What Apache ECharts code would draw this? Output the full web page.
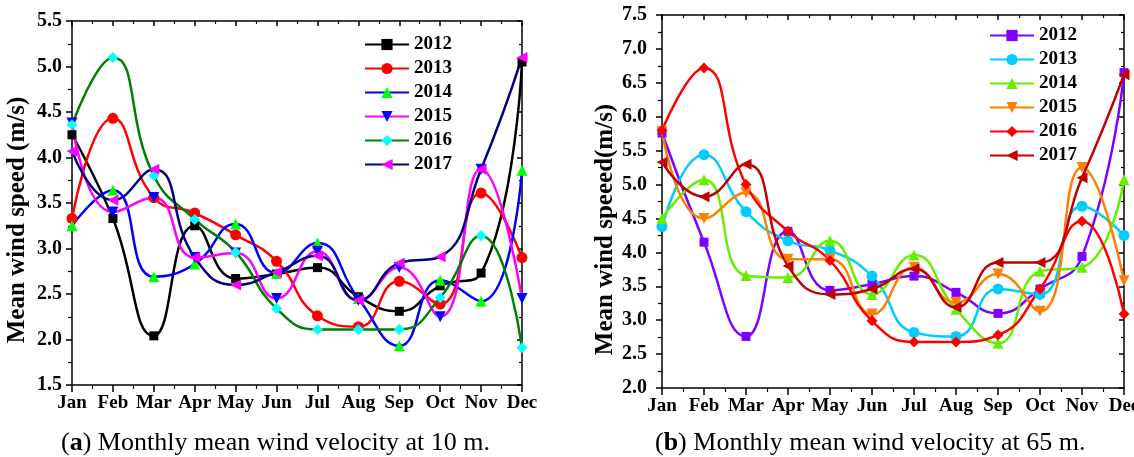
<!DOCTYPE html>
<html><head><meta charset="utf-8">
<script src="https://cdn.jsdelivr.net/npm/echarts@6/dist/echarts.min.js"></script>
<style>html,body{margin:0;padding:0;background:#fff}#c{width:1134px;height:457px}</style>
</head><body><div id="c"></div>
<script>
// ---------- data ----------
const months = ['Jan','Feb','Mar','Apr','May','Jun','Jul','Aug','Sep','Oct','Nov','Dec'];
const years = ['2012','2013','2014','2015','2016','2017'];

// (a) 10 m
const v10_2012 = [4.25, 3.33, 2.04, 3.25, 2.67, 2.72, 2.79, 2.47, 2.31, 2.59, 2.73, 5.05];
const v10_2013 = [3.33, 4.43, 3.56, 3.39, 3.15, 2.86, 2.26, 2.14, 2.64, 2.39, 3.61, 2.90];
const v10_2014 = [3.25, 3.64, 2.69, 2.83, 3.27, 2.73, 3.06, 2.45, 1.93, 2.65, 2.42, 3.86];
const v10_2015 = [4.38, 3.40, 3.56, 2.90, 2.95, 2.45, 2.97, 2.43, 2.79, 2.25, 3.87, 2.45];
const v10_2016 = [4.36, 5.10, 3.80, 3.32, 2.96, 2.34, 2.11, 2.11, 2.11, 2.46, 3.14, 1.91];
const v10_2017 = [4.07, 3.53, 3.87, 2.90, 2.60, 2.74, 2.92, 2.43, 2.84, 2.91, 3.87, 5.10];

// (b) 65 m
const v65_2012 = [5.76, 4.15, 2.76, 4.31, 3.44, 3.53, 3.65, 3.41, 3.10, 3.46, 3.94, 6.65];
const v65_2013 = [4.38, 5.44, 4.60, 4.17, 4.03, 3.65, 2.82, 2.76, 3.46, 3.38, 4.68, 4.25];
const v65_2014 = [4.50, 5.07, 3.66, 3.63, 4.17, 3.38, 3.96, 3.16, 2.66, 3.72, 3.78, 5.07];
const v65_2015 = [5.78, 4.50, 4.88, 3.90, 3.90, 3.09, 3.78, 3.26, 3.68, 3.13, 5.25, 3.58];
const v65_2016 = [5.80, 6.72, 5.00, 4.31, 3.88, 2.99, 2.68, 2.68, 2.78, 3.46, 4.46, 3.09];
const v65_2017 = [5.33, 4.82, 5.30, 3.80, 3.38, 3.46, 3.76, 3.19, 3.85, 3.85, 5.10, 6.62];

const yAxisA = {min: 1.5, max: 5.5, interval: 0.5};
const yAxisB = {min: 2.0, max: 7.5, interval: 0.5};
const yNameA = 'Mean wind speed (m/s)';
const yNameB = 'Mean wind speeed(m/s)';
const captionA = '({b|a}) Monthly mean wind velocity at 10 m.';
const captionB = '({b|b}) Monthly mean wind velocity at 65 m.';

// ---------- styles ----------
const FONT = 'Liberation Serif';
const seriesA = [v10_2012, v10_2013, v10_2014, v10_2015, v10_2016, v10_2017];
const seriesB = [v65_2012, v65_2013, v65_2014, v65_2015, v65_2016, v65_2017];
const symA = [
  {line:'#000000', mark:'#000000', sym:'rect', rot:0},
  {line:'#ff0000', mark:'#ff0000', sym:'circle', rot:0},
  {line:'#0000ff', mark:'#00ff00', sym:'triangle', rot:0},
  {line:'#ff00ff', mark:'#0000ff', sym:'triangle', rot:180},
  {line:'#008000', mark:'#00ffff', sym:'diamond', rot:0},
  {line:'#000080', mark:'#ff00ff', sym:'triangle', rot:90}
];
const symB = [
  {line:'#8000ff', mark:'#8000ff', sym:'rect', rot:0},
  {line:'#00ccff', mark:'#00ccff', sym:'circle', rot:0},
  {line:'#66ee00', mark:'#66ee00', sym:'triangle', rot:0},
  {line:'#ff8000', mark:'#ff8000', sym:'triangle', rot:180},
  {line:'#ff0000', mark:'#ff0000', sym:'diamond', rot:0},
  {line:'#c00000', mark:'#c00000', sym:'triangle', rot:90}
];

const axisLineStyle = {color:'#000', width:1.5};

function xAxes(gi) {
  const base = {
    type:'value', gridIndex:gi, min:0, max:months.length-1, interval:1,
    splitLine:{show:false},
    axisLine:{show:true, onZero:false, lineStyle:axisLineStyle}
  };
  return [
    Object.assign({}, base, {
      position:'bottom',
      axisTick:{show:true, inside:false, length:7, lineStyle:axisLineStyle},
      minorTick:{show:true, splitNumber:2, length:4, lineStyle:{color:'#000', width:1.2}},
      axisLabel:{show:true, formatter:v=>months[v], fontFamily:FONT, fontWeight:'bold',
                 fontSize:19, color:'#000', margin:9, showMinLabel:true, showMaxLabel:true}
    }),
    Object.assign({}, base, {
      position:'top',
      axisTick:{show:true, inside:true, length:5, lineStyle:axisLineStyle},
      minorTick:{show:true, splitNumber:2, length:3, lineStyle:{color:'#000', width:1.2}},
      axisLabel:{show:false}
    })
  ];
}
function yAxes(gi, rng, name, gap, pad, margin) {
  const base = {
    type:'value', gridIndex:gi, min:rng.min, max:rng.max, interval:rng.interval,
    splitLine:{show:false},
    axisLine:{show:true, onZero:false, lineStyle:axisLineStyle}
  };
  return [
    Object.assign({}, base, {
      position:'left',
      name:name, nameLocation:'middle', nameGap:gap,
      nameTextStyle:{fontFamily:FONT, fontWeight:'bold', fontSize:25, color:'#000', padding:pad},
      axisTick:{show:true, inside:false, length:6, lineStyle:axisLineStyle},
      minorTick:{show:true, splitNumber:2, length:4, lineStyle:{color:'#000', width:1.2}},
      axisLabel:{show:true, formatter:v=>v.toFixed(1), fontFamily:FONT, fontWeight:'bold',
                 fontSize:20, color:'#000', margin:margin}
    }),
    Object.assign({}, base, {
      position:'right',
      axisTick:{show:true, inside:true, length:5, lineStyle:axisLineStyle},
      minorTick:{show:true, splitNumber:2, length:3, lineStyle:{color:'#000', width:1.2}},
      axisLabel:{show:false}
    })
  ];
}

function buildSeries(list, styles, prefix, xi, yi) {
  return list.map((arr, k) => ({
    type:'line', name: prefix + years[k],
    xAxisIndex:xi, yAxisIndex:yi,
    data: arr.map((v, i) => [i, v]),
    smooth:0.5,
    symbol: styles[k].sym, symbolRotate: styles[k].rot, symbolSize: styles[k].sym === 'rect' ? 9 : 11,
    lineStyle:{color:styles[k].line, width:2.5},
    itemStyle:{color:styles[k].mark},
    emphasis:{disabled:true},
    animation:false
  }));
}

const legendBase = {
  orient:'vertical', itemWidth:44, itemHeight:14, itemGap:5, selectedMode:false,
  formatter: n => n.slice(1),
  textStyle:{fontFamily:FONT, fontWeight:'bold', fontSize:19, color:'#000', lineHeight:14}
};

const captionStyle = {
  fontFamily:FONT, fontSize:26, fontWeight:'normal', color:'#000',
  rich:{b:{fontFamily:FONT, fontSize:26, fontWeight:'bold', color:'#000'}}
};

const option = {
  animation:false,
  backgroundColor:'#fff',
  title:[
    {text:captionA, left:56, top:425, textStyle:captionStyle},
    {text:captionB, left:650, top:425, textStyle:captionStyle}
  ],
  legend:[
    Object.assign({}, legendBase, {left:359, top:30, data: years.map(y=>'a'+y)}),
    Object.assign({}, legendBase, {left:984, top:21, data: years.map(y=>'b'+y)})
  ],
  grid:[
    {left:72, right:612, top:21, bottom:72, containLabel:false, outerBoundsMode:'none'},
    {left:662, right:10, top:15, bottom:69, containLabel:false, outerBoundsMode:'none'}
  ],
  xAxis: xAxes(0).concat(xAxes(1)),
  yAxis: yAxes(0, yAxisA, yNameA, 42, [0,34,0,0], 10).concat(yAxes(1, yAxisB, yNameB, 39, [0,56,0,0], 15)),
  series: buildSeries(seriesA, symA, 'a', 0, 0).concat(buildSeries(seriesB, symB, 'b', 2, 2))
};

const chart = echarts.init(document.getElementById('c'), null, {renderer:'canvas'});
chart.setOption(option);
</script>
</body></html>
